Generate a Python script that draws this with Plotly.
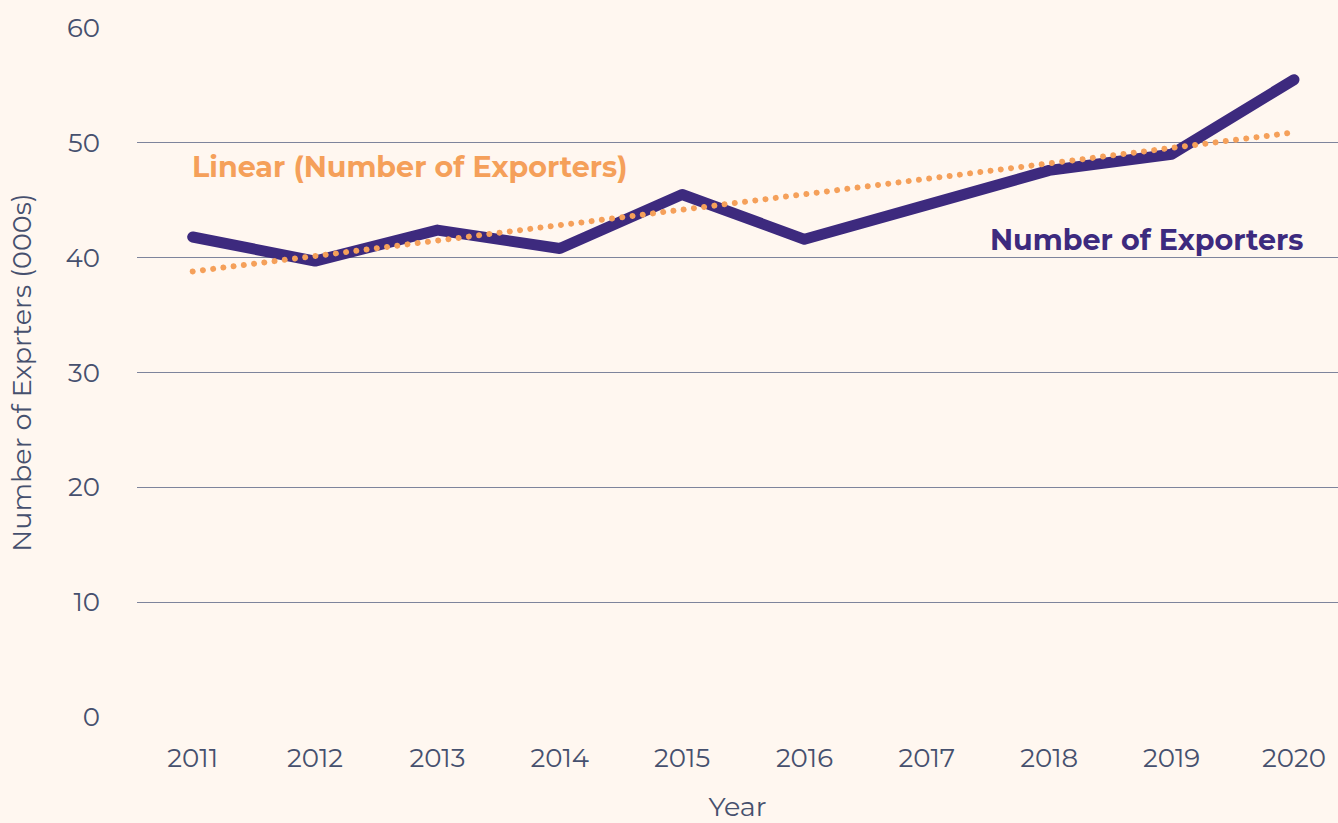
import numpy as np
import plotly.graph_objects as go

years = [2011, 2012, 2013, 2014, 2015, 2016, 2017, 2018, 2019, 2020]
exporters = [41.8, 39.7, 42.4, 40.8, 45.5, 41.6, 44.6, 47.6, 49.0, 55.5]
y_ticks = [0, 10, 20, 30, 40, 50, 60]

# linear trend fitted from the series
coef = np.polyfit(years, exporters, 1)
trend = list(np.polyval(coef, years))

BG = "#FFF7F0"
TXT = "#46506E"
PURPLE = "#3D2A7E"
ORANGE = "#F5A05A"
GRID = "#7E849C"
FONT = "Montserrat, 'Noto Sans', 'Open Sans', sans-serif"

fig = go.Figure()
fig.add_trace(go.Scatter(x=years, y=exporters, mode="lines",
                         line=dict(color=PURPLE, width=11), name="Number of Exporters"))
fig.add_trace(go.Scatter(x=years, y=trend, mode="lines",
                         line=dict(color=ORANGE, width=6, dash="dot"),
                         name="Linear (Number of Exporters)"))

fig.add_annotation(x=2011, y=47.9, xref="x", yref="y", text="<b>Linear (Number of Exporters)</b>",
                   showarrow=False, xanchor="left", yanchor="middle", xshift=-3,
                   font=dict(color=ORANGE, size=28.6, family=FONT))
fig.add_annotation(x=2020, y=41.55, xref="x", yref="y", text="<b>Number of Exporters</b>",
                   showarrow=False, xanchor="right", yanchor="middle", xshift=12,
                   font=dict(color=PURPLE, size=28.6, family=FONT))

fig.update_layout(
    width=1338, height=823,
    paper_bgcolor=BG, plot_bgcolor=BG,
    margin=dict(l=137, r=0, t=28, b=106),
    showlegend=False,
    font=dict(family=FONT, color=TXT, size=26),
)
fig.update_xaxes(range=[2010.545, 2020.36], tickvals=years, ticktext=[str(y) for y in years],
                 showgrid=False, zeroline=False, showline=False, ticks="",
                 ticklabelstandoff=23,
                 title=dict(text="Year", font=dict(size=27, color=TXT), standoff=28),
                 tickfont=dict(size=26, color=TXT))
fig.update_yaxes(range=[0, 60], tickvals=y_ticks, showgrid=True, gridcolor=GRID, gridwidth=1,
                 zeroline=False, showline=False, ticks="", ticklabelstandoff=36,
                 title=dict(text="Number of Exprters (000s)", font=dict(size=27, color=TXT), standoff=26),
                 tickfont=dict(size=26, color=TXT))

post = """
document.body.style.margin='0';
document.body.style.background='%s';
var gd=document.getElementById('{plot_id}');
var lines=gd.querySelectorAll('.scatterlayer .js-line');
lines.forEach(function(p,i){
  p.style.strokeLinecap='round';
  p.style.strokeLinejoin='round';
  if(i===1){p.style.strokeDasharray='0.01px,10.3px';}
});
""" % BG

fig.write_html("out.html", post_script=post, config={"displayModeBar": False})
